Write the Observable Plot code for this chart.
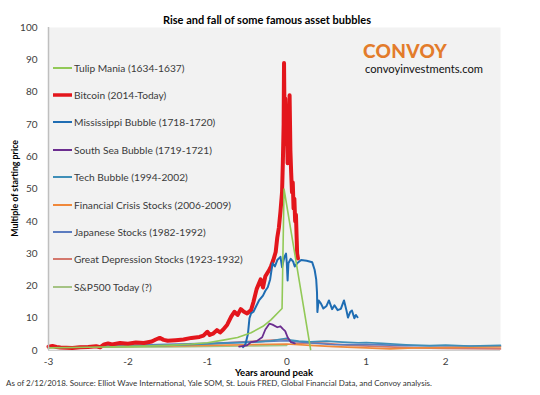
<!DOCTYPE html>
<html>
<head>
<meta charset="utf-8">
<script src="https://cdn.jsdelivr.net/npm/d3@7"></script>
<script src="https://cdn.jsdelivr.net/npm/@observablehq/plot@0.6"></script>
<style>
  body { margin: 0; background: #fff; font-family: Lato, "Open Sans", sans-serif; }
  #wrap { position: relative; width: 540px; height: 395px; overflow: hidden; }
  #chart svg { position: absolute; left: 0; top: 0; }
  .ov { position: absolute; white-space: nowrap; line-height: 1; }
  #title { top: 14px; left: 0; width: 534px; text-align: center; font-weight: bold; font-size: 11px; color: #000; }
  #ylab { left: -85px; top: 184px; width: 200px; text-align: center; transform: rotate(-90deg); font-weight: bold; font-size: 8.8px; color: #000; }
  #xlab { left: 48px; width: 452px; top: 368px; text-align: center; font-weight: bold; font-size: 9.6px; color: #000; }
  #cap { left: 6px; top: 379px; font-size: 8px; color: #333; }
  #brand { left: 363px; top: 41px; font-weight: 900; font-size: 19px; color: #e37c2b; letter-spacing: 0.3px; }
  #url { left: 365px; top: 63px; font-size: 11.2px; color: #111; }
  #legend { left: 53px; top: 54px; }
  .row { display: flex; align-items: center; height: 27.4px; font-size: 10.2px; color: #3a3a3a; }
  .sw { width: 19px; margin-right: 2px; display: block; }
</style>
</head>
<body>
<div id="wrap">
  <div id="chart"></div>
  <div class="ov" id="title">Rise and fall of some famous asset bubbles</div>
  <div class="ov" id="ylab">Multiple of starting price</div>
  <div class="ov" id="xlab">Years around peak</div>
  <div class="ov" id="cap">As of 2/12/2018. Source: Elliot Wave International, Yale SOM, St. Louis FRED, Global Financial Data, and Convoy analysis.</div>
  <div class="ov" id="brand">CONVOY</div>
  <div class="ov" id="url">convoyinvestments.com</div>
  <div class="ov" id="legend"></div>
</div>
<script>
// ---- data: [years around peak, multiple of starting price] ----
const seriesNames = [
  "Tulip Mania (1634-1637)",
  "Bitcoin (2014-Today)",
  "Mississippi Bubble (1718-1720)",
  "South Sea Bubble (1719-1721)",
  "Tech Bubble (1994-2002)",
  "Financial Crisis Stocks (2006-2009)",
  "Japanese Stocks (1982-1992)",
  "Great Depression Stocks (1923-1932)",
  "S&P500 Today (?)"
];
const seriesColors = ["#92c957", "#e3161c", "#1f6db3", "#6b2d8f", "#3f8fb8", "#f0883a", "#5b7cc0", "#d4786d", "#a5c384"];
const seriesWidths = [1.6, 4, 2, 1.8, 1.6, 1.6, 1.6, 1.6, 1.6];

const tulip = [[-3,0.8],[-2.5,1.0],[-2,1.2],[-1.5,1.6],[-1.2,2.0],[-1,2.4],[-0.8,3.2],[-0.62,4.0],[-0.45,5.5],[-0.3,7.5],[-0.2,9.5],[-0.06,13],[-0.035,50],[0.3,0.3]];
const bitcoin = [[-3.00,1.2],[-2.95,1.4],[-2.90,1.1],[-2.85,0.9],[-2.7,0.8],[-2.6,1.0],[-2.5,1.1],[-2.4,1.3],[-2.35,1.0],[-2.3,1.9],[-2.25,2.2],[-2.2,1.9],[-2.1,2.3],[-2.0,2.1],[-1.9,2.5],[-1.8,2.3],[-1.7,2.8],[-1.65,3.4],[-1.6,3.9],[-1.55,3.3],[-1.5,3.0],[-1.4,3.2],[-1.3,3.4],[-1.2,3.9],[-1.1,4.2],[-1.05,4.6],[-1.0,5.8],[-0.97,4.8],[-0.93,5.2],[-0.88,6.3],[-0.84,5.6],[-0.8,6.5],[-0.75,8],[-0.7,10.5],[-0.66,12],[-0.62,11],[-0.58,12.8],[-0.54,12],[-0.5,11.5],[-0.45,12.5],[-0.42,15],[-0.38,19],[-0.33,22],[-0.3,19.5],[-0.27,23],[-0.22,25],[-0.2,26],[-0.17,28],[-0.14,30.5],[-0.12,35],[-0.1,38],[-0.08,43],[-0.06,49],[-0.05,58],[-0.04,70],[-0.035,89],[-0.03,75],[-0.02,78],[-0.01,64],[0.0,72],[0.01,58],[0.02,66],[0.035,79],[0.045,62],[0.055,55],[0.065,49],[0.075,52],[0.085,44],[0.095,47],[0.105,40],[0.115,42],[0.125,34],[0.13,30],[0.14,28.5]];
const mississippi = [[-0.55,1.0],[-0.52,2],[-0.49,5],[-0.47,10],[-0.45,11.5],[-0.42,12],[-0.38,14],[-0.35,15.5],[-0.3,17],[-0.27,18.5],[-0.24,19.6],[-0.21,22],[-0.18,27],[-0.15,26],[-0.12,28],[-0.08,29],[-0.06,25.8],[-0.03,29],[-0.01,30],[0.0,27],[0.01,21.7],[0.02,27],[0.05,28.4],[0.08,27.5],[0.1,26],[0.13,27],[0.18,28],[0.25,27.8],[0.32,27.3],[0.35,25],[0.37,22],[0.38,18],[0.385,11.9],[0.4,15.5],[0.43,14.5],[0.46,13],[0.5,13.8],[0.53,15.5],[0.57,12.8],[0.6,14],[0.64,12.5],[0.68,12.9],[0.72,15.5],[0.75,12.5],[0.77,10.2],[0.8,12],[0.82,12.4],[0.85,10],[0.87,11],[0.89,10.3]];
const southSea = [[-0.6,1.2],[-0.5,1.6],[-0.45,2.6],[-0.38,2.9],[-0.31,4.1],[-0.27,6.5],[-0.25,7.2],[-0.22,8.3],[-0.18,8.0],[-0.12,7.2],[-0.08,7.5],[-0.05,6.7],[-0.02,6.0],[0.01,4.1],[0.05,2.6],[0.1,2.2]];
const tech = [[-3,1.0],[-2.5,1.1],[-2,1.3],[-1.5,1.6],[-1,2.0],[-0.7,2.3],[-0.4,2.6],[-0.2,3.0],[0,3.8],[0.05,3.2],[0.15,2.9],[0.3,2.7],[0.5,2.9],[0.7,2.6],[0.9,2.4],[1.0,2.5],[1.2,2.2],[1.5,1.8],[1.8,1.5],[2.0,1.7],[2.3,1.4],[2.69,1.6]];
const financial = [[-3,1.0],[-2.5,1.1],[-2,1.3],[-1.5,1.4],[-1,1.6],[-0.5,1.8],[0,2.0],[0.3,1.6],[0.6,1.2],[1.0,0.8],[1.3,0.5],[1.6,0.8],[2.0,0.9],[2.3,1.0],[2.69,1.1]];
const japanese = [[-3,1.0],[-2.5,1.2],[-2,1.6],[-1.5,1.9],[-1,2.2],[-0.5,2.6],[0,3.0],[0.3,2.3],[0.6,1.8],[1.0,1.9],[1.5,1.5],[2.0,1.4],[2.69,1.3]];
const depression = [[-3,1.0],[-2.5,1.2],[-2,1.4],[-1.5,1.6],[-1,2.0],[-0.5,2.8],[0,3.5],[0.1,2.2],[0.4,2.4],[0.8,1.6],[1.2,1.2],[1.6,0.8],[2.0,0.6],[2.69,0.5]];
const sp500 = [[-3,1.0],[-2.5,1.05],[-2,1.0],[-1.5,1.1],[-1.0,1.25],[-0.5,1.4],[0,1.6]];

const xTicks = [-3, -2, -1, 0, 1, 2];
const yTicks = [0, 10, 20, 30, 40, 50, 60, 70, 80, 90, 100];

const seriesData = [tulip, bitcoin, mississippi, southSea, tech, financial, japanese, depression, sp500];
// drawing order (bottom to top)
const drawOrder = [8, 7, 6, 5, 4, 1, 2, 3, 0];

const lineMarks = drawOrder.map(i => Plot.line(seriesData[i], {
  x: d => d[0], y: d => d[1],
  stroke: seriesColors[i], strokeWidth: seriesWidths[i],
  strokeLinejoin: "round", strokeLinecap: "round"
}));

const chart = Plot.plot({
  width: 540, height: 395,
  marginTop: 27, marginBottom: 45, marginLeft: 48, marginRight: 40,
  style: { fontFamily: "Lato, sans-serif", fontSize: "10px", color: "#404040", background: "transparent" },
  x: { domain: [-3, 2.69], label: null },
  y: { domain: [0, 100], label: null },
  marks: [
    Plot.frame({ fill: "#f2f2f2", stroke: null }),
    Plot.ruleY([0], { stroke: "#d0d0d0", strokeWidth: 1 }),
    ...lineMarks,
    Plot.ruleX([-3], { stroke: "#bfbfbf", strokeWidth: 1.5 }),
    Plot.axisX(xTicks, { tickSize: 0, tickPadding: 7, tickFormat: d => String(d), fill: "#404040", label: null }),
    Plot.axisY(yTicks, { tickSize: 0, tickPadding: 11, tickFormat: d => String(d), fill: "#404040", label: null })
  ]
});
document.getElementById("chart").appendChild(chart);

// legend
const leg = document.getElementById("legend");
seriesNames.forEach((name, i) => {
  const row = document.createElement("div");
  row.className = "row";
  const sw = document.createElementNS("http://www.w3.org/2000/svg", "svg");
  sw.setAttribute("width", 19); sw.setAttribute("height", 6);
  sw.setAttribute("class", "sw");
  const ln = document.createElementNS("http://www.w3.org/2000/svg", "line");
  ln.setAttribute("x1", 0); ln.setAttribute("x2", 19);
  ln.setAttribute("y1", 3); ln.setAttribute("y2", 3);
  ln.setAttribute("stroke", seriesColors[i]);
  ln.setAttribute("stroke-width", i === 1 ? 3.5 : 2);
  sw.appendChild(ln);
  row.appendChild(sw);
  const t = document.createElement("span");
  t.textContent = name;
  row.appendChild(t);
  leg.appendChild(row);
});
</script>
</body>
</html>
